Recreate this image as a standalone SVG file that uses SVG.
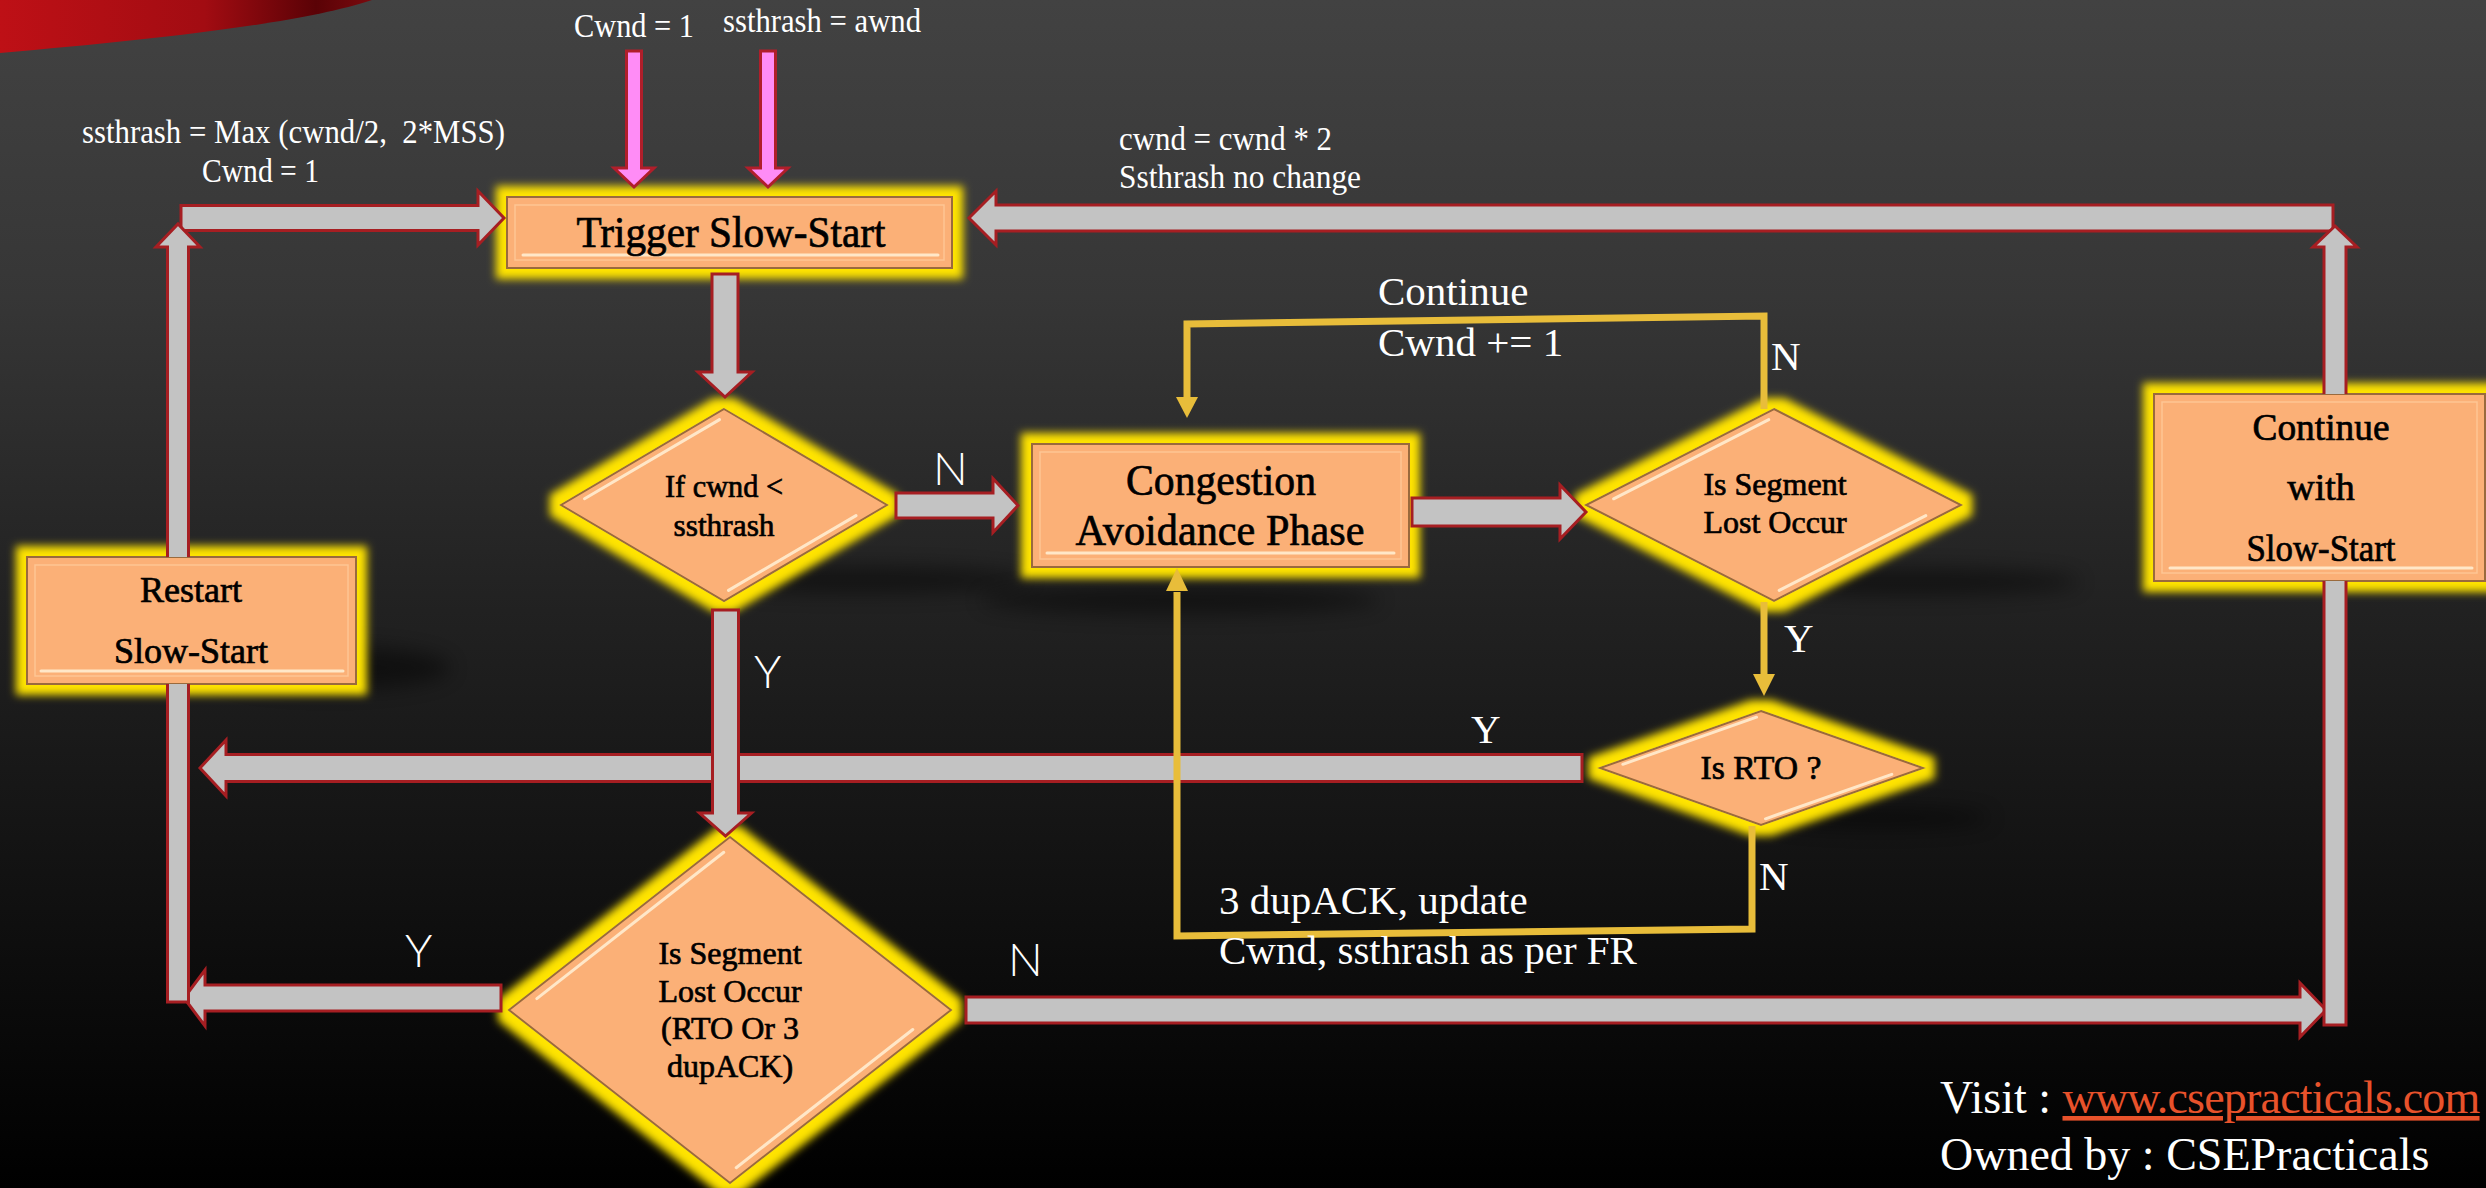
<svg xmlns="http://www.w3.org/2000/svg" width="2486" height="1188" viewBox="0 0 2486 1188">
  <defs>
    <linearGradient id="bg" x1="0" y1="0" x2="0" y2="1">
      <stop offset="0" stop-color="#424242"/>
      <stop offset="0.25" stop-color="#363636"/>
      <stop offset="0.5" stop-color="#222222"/>
      <stop offset="0.75" stop-color="#111111"/>
      <stop offset="1" stop-color="#000000"/>
    </linearGradient>
    <linearGradient id="swoosh" x1="0" y1="0" x2="1" y2="0">
      <stop offset="0" stop-color="#BE1016"/>
      <stop offset="0.55" stop-color="#A20C12"/>
      <stop offset="0.85" stop-color="#5A0206"/>
      <stop offset="1" stop-color="#7A0A0E"/>
    </linearGradient>
    <filter id="glow" x="-20%" y="-40%" width="140%" height="180%">
      <feMorphology in="SourceAlpha" operator="dilate" radius="10" result="grow"/>
      <feGaussianBlur in="grow" stdDeviation="4.5" result="soft"/>
      <feFlood flood-color="#FFE400"/>
      <feComposite in2="soft" operator="in" result="halo"/>
      <feMerge>
        <feMergeNode in="halo"/>
        <feMergeNode in="SourceGraphic"/>
      </feMerge>
    </filter>
    <filter id="haze" x="-50%" y="-200%" width="200%" height="500%">
      <feGaussianBlur stdDeviation="10"/>
    </filter>
    <style>
      .shape { fill: #FBB077; stroke: #9A6A3C; stroke-width: 2; }
      .inset { fill: none; stroke: #FFCFA0; stroke-width: 1.5; opacity: 0.7; }
      .shine { fill: none; stroke: #FFE7C8; stroke-width: 3; stroke-linecap: round; }
      .shadow { fill: #000; opacity: 0.45; }
      .label { fill: #000; stroke: #000; stroke-width: 0.7; text-anchor: middle; }
      .note { fill: #FFFFFF; white-space: pre; }
      .yn { font-weight: 300; fill: #FFFFFF; font-size: 46px; }
      .gray { fill: #C3C3C3; stroke: #A61E22; stroke-width: 3; stroke-linejoin: miter; }
      .pink { fill: #FF8CF6; stroke: #B01E2A; stroke-width: 3; }
      .gold { fill: none; stroke: #E8BD3A; stroke-width: 7; stroke-linejoin: miter; }
      .goldhead { fill: #E8BD3A; }
    </style>
  </defs>

  <!-- backdrop -->
  <rect x="0" y="0" width="2486" height="1188" fill="url(#bg)"/>
  <path d="M0,0 H372 C300,24 150,40 0,53 Z" fill="url(#swoosh)"/>

  <!-- nodes -->
  <g font-family="Liberation Serif, DejaVu Serif, serif">
  <g id="node-trigger">
    <rect class="shape" x="507" y="197" width="445" height="71" filter="url(#glow)"/>
    <rect class="inset" x="515" y="205" width="429" height="55"/>
    <line class="shine" x1="523" y1="255" x2="938" y2="255"/>
    <text class="label" x="731" y="247" font-size="44" textLength="309" lengthAdjust="spacingAndGlyphs">Trigger Slow-Start</text>
  </g>

  <g id="node-cwnd-check">
    <ellipse class="shadow" cx="860" cy="580" rx="170" ry="13" filter="url(#haze)"/>
    <polygon class="shape" points="724,409 887,505 724,601 561,505" filter="url(#glow)"/>
    <line class="shine" x1="719.5" y1="419.6" x2="584.5" y2="498.8"/>
    <line class="shine" x1="856" y1="515.6" x2="728.5" y2="590.4"/>
    <text class="label" x="724" y="497" font-size="32" textLength="118" lengthAdjust="spacingAndGlyphs">If cwnd &lt;</text>
    <text class="label" x="724" y="536" font-size="32" textLength="101" lengthAdjust="spacingAndGlyphs">ssthrash</text>
  </g>

  <g id="node-congestion">
    <ellipse class="shadow" cx="1180" cy="600" rx="200" ry="14" filter="url(#haze)"/>
    <rect class="shape" x="1032" y="444" width="377" height="123" filter="url(#glow)"/>
    <rect class="inset" x="1040" y="452" width="361" height="107"/>
    <line class="shine" x1="1047" y1="553" x2="1394" y2="553"/>
    <text class="label" x="1221" y="495" font-size="45" textLength="190" lengthAdjust="spacingAndGlyphs">Congestion</text>
    <text class="label" x="1220" y="545" font-size="45" textLength="289" lengthAdjust="spacingAndGlyphs">Avoidance Phase</text>
  </g>

  <g id="node-seg-lost">
    <ellipse class="shadow" cx="1910" cy="582" rx="170" ry="13" filter="url(#haze)"/>
    <polygon class="shape" points="1774,409 1961,505 1774,601 1586,505" filter="url(#glow)"/>
    <line class="shine" x1="1768.8" y1="419.6" x2="1613.6" y2="498.8"/>
    <line class="shine" x1="1925.8" y1="515.6" x2="1779.2" y2="590.4"/>
    <text class="label" x="1775" y="495" font-size="32">Is Segment</text>
    <text class="label" x="1775" y="533" font-size="32">Lost Occur</text>
  </g>

  <g id="node-rto">
    <ellipse class="shadow" cx="1880" cy="818" rx="110" ry="10" filter="url(#haze)"/>
    <polygon class="shape" points="1761,711 1923,768 1761,825 1600,768" filter="url(#glow)"/>
    <line class="shine" x1="1756.5" y1="717.2" x2="1622.8" y2="764.3"/>
    <line class="shine" x1="1891.8" y1="774.3" x2="1765.5" y2="818.8"/>
    <text class="label" x="1761" y="779" font-size="34" textLength="121" lengthAdjust="spacingAndGlyphs">Is RTO ?</text>
  </g>

  <g id="node-restart">
    <ellipse class="shadow" cx="330" cy="668" rx="120" ry="22" filter="url(#haze)"/>
    <rect class="shape" x="27" y="557" width="329" height="127" filter="url(#glow)"/>
    <rect class="inset" x="35" y="565" width="313" height="111"/>
    <line class="shine" x1="41" y1="671" x2="343" y2="671"/>
    <text class="label" x="191" y="602" font-size="36">Restart</text>
    <text class="label" x="191" y="663" font-size="36">Slow-Start</text>
  </g>

  <g id="node-continue">
    <rect class="shape" x="2154" y="394" width="331" height="187" filter="url(#glow)"/>
    <rect class="inset" x="2162" y="402" width="315" height="171"/>
    <line class="shine" x1="2170" y1="568" x2="2472" y2="568"/>
    <text class="label" x="2321" y="440" font-size="38" textLength="137" lengthAdjust="spacingAndGlyphs">Continue</text>
    <text class="label" x="2321" y="500" font-size="38">with</text>
    <text class="label" x="2321" y="561" font-size="38" textLength="149" lengthAdjust="spacingAndGlyphs">Slow-Start</text>
  </g>

  <g id="node-loss-type">
    <polygon class="shape" points="730,837 951,1010 730,1183 509,1010" filter="url(#glow)"/>
    <line class="shine" x1="723.8" y1="852.3" x2="536.8" y2="998.6"/>
    <line class="shine" x1="912.8" y1="1029.5" x2="736.2" y2="1167.7"/>
    <text class="label" x="730" y="964" font-size="32">Is Segment</text>
    <text class="label" x="730" y="1002" font-size="32">Lost Occur</text>
    <text class="label" x="730" y="1039" font-size="32">(RTO Or 3</text>
    <text class="label" x="730" y="1077" font-size="32">dupACK)</text>
  </g>
  </g>

  <!-- connectors -->
  <g id="connectors">
    <!-- initial settings into slow start -->
    <path class="pink" d="M626.5,51 H641.5 V168 H654 L634,187 L614,168 H626.5 Z"/>
    <path class="pink" d="M760.5,51 H775.5 V168 H788 L768,187 L748,168 H760.5 Z"/>

    <!-- block arrows -->
    <path class="gray" d="M181,205.5 H478 V191 L504,218 L478,245 V230.5 H181 Z"/>
    <path class="gray" d="M2333,205 H996 V191 L969,218 L996,245 V231 H2333 Z"/>
    <path class="gray" d="M712,274 H738 V372 H752 L725,397 L698,372 H712 Z"/>
    <path class="gray" d="M896,493 H993 V478.5 L1018,505.5 L993,532.5 V518 H896 Z"/>
    <path class="gray" d="M1412,498 H1560 V485 L1586,512 L1560,539 V526 H1412 Z"/>
    <path class="gray" d="M1582,754.5 H226 V740 L200,768 L226,796 V781.5 H1582 Z"/>
    <path class="gray" d="M712.5,610 H738.5 V813 H751.5 L725.5,836 L699.5,813 H712.5 Z"/>
    <path class="gray" d="M501,985 H205 V970 L184,998 L205,1026 V1011 H501 Z"/>
    <path class="gray" d="M966,997 H2300 V983 L2326,1010 L2300,1037 V1023 H966 Z"/>

    <!-- left return path (runs behind Restart Slow-Start) -->
    <path class="gray" d="M167.5,684 V1002 H188.5 V684"/>
    <path class="gray" d="M167.5,557 V247 H156 L178,224 L200,247 H188.5 V557"/>

    <!-- right return path (runs behind Continue with Slow-Start) -->
    <path class="gray" d="M2324,581 V1025 H2346 V581"/>
    <path class="gray" d="M2324,394 V247 H2313 L2335,226 L2357,247 H2346 V394"/>

    <!-- congestion avoidance loops -->
    <polyline class="gold" points="1764,409 1764,316 1187,324 1187,400"/>
    <polygon class="goldhead" points="1176,397 1198,397 1187,418"/>
    <line class="gold" x1="1764" y1="602" x2="1764" y2="676"/>
    <polygon class="goldhead" points="1753,674 1775,674 1764,696"/>
    <polyline class="gold" points="1752,826 1752,929 1177,936 1177,592"/>
    <polygon class="goldhead" points="1166,591 1188,591 1177,568"/>
  </g>

  <!-- annotations -->
  <g id="annotations" font-family="Liberation Serif, DejaVu Serif, serif">
    <text class="note" x="574" y="37" font-size="33" textLength="120" lengthAdjust="spacingAndGlyphs">Cwnd = 1</text>
    <text class="note" x="723" y="32" font-size="33" textLength="198" lengthAdjust="spacingAndGlyphs">ssthrash = awnd</text>
    <text class="note" x="82" y="143" font-size="33" textLength="423" lengthAdjust="spacingAndGlyphs">ssthrash = Max (cwnd/2,  2*MSS)</text>
    <text class="note" x="202" y="182" font-size="33" textLength="117" lengthAdjust="spacingAndGlyphs">Cwnd = 1</text>
    <text class="note" x="1119" y="150" font-size="33" textLength="213" lengthAdjust="spacingAndGlyphs">cwnd = cwnd * 2</text>
    <text class="note" x="1119" y="188" font-size="33" textLength="242" lengthAdjust="spacingAndGlyphs">Ssthrash no change</text>

    <text class="note" x="1378" y="305" font-size="41">Continue</text>
    <text class="note" x="1378" y="356" font-size="41">Cwnd += 1</text>
    <text class="note" x="1771" y="370" font-size="41">N</text>
    <text class="note" x="1784" y="652" font-size="41">Y</text>
    <text class="note" x="1471" y="743" font-size="41">Y</text>
    <text class="note" x="1759" y="890" font-size="41">N</text>
    <text class="note" x="1219" y="914" font-size="41">3 dupACK, update</text>
    <text class="note" x="1219" y="964" font-size="41">Cwnd, ssthrash as per FR</text>

    <g font-family="Lato, DejaVu Sans, sans-serif">
      <text class="yn" x="933" y="485">N</text>
      <text class="yn" x="754" y="688">Y</text>
      <text class="yn" x="405" y="967">Y</text>
      <text class="yn" x="1008" y="976">N</text>
    </g>

    <text class="note" x="1940" y="1113" font-size="46">Visit : <tspan fill="#E8522B" text-decoration="underline" letter-spacing="-0.8">www.csepracticals.com</tspan></text>
    <text class="note" x="1940" y="1170" font-size="46">Owned by : CSEPracticals</text>
  </g>
</svg>
